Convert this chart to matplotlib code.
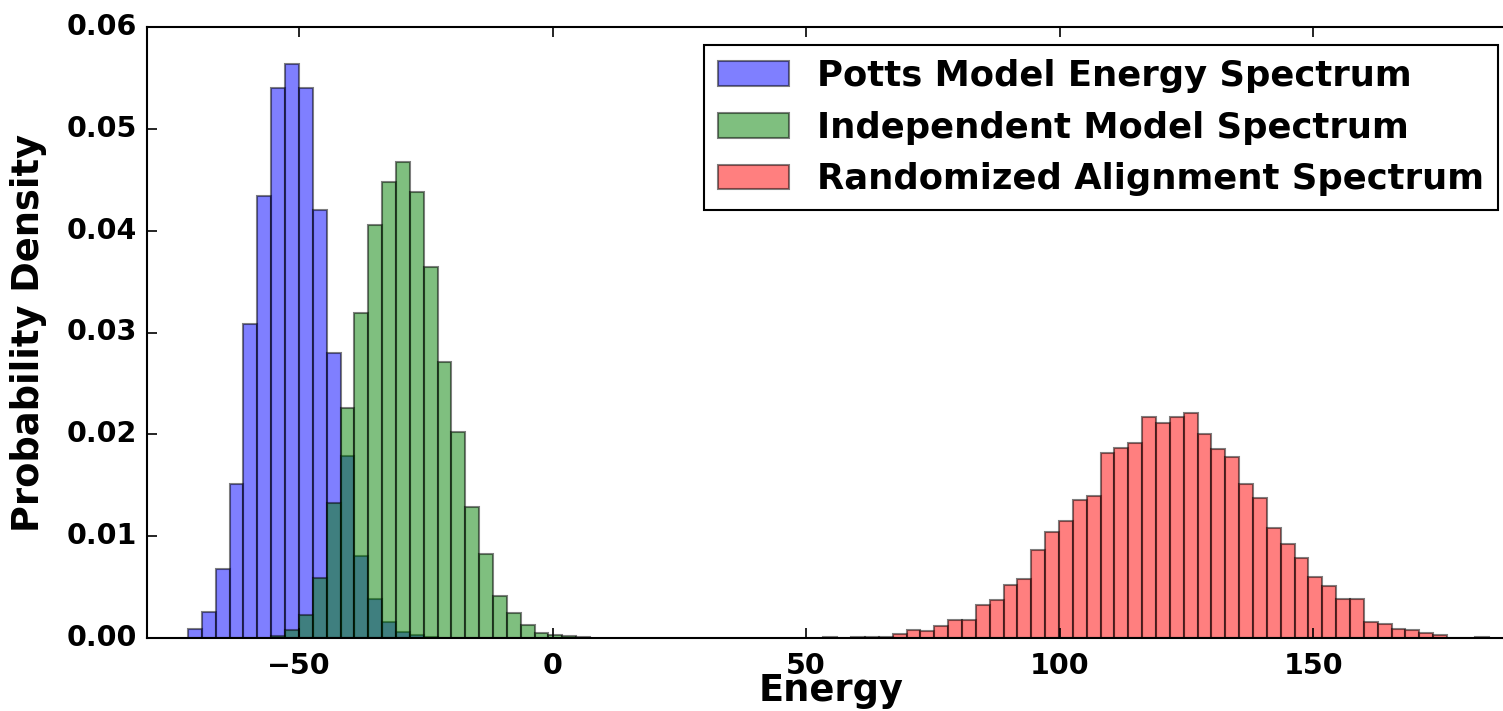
import numpy as np
import matplotlib
matplotlib.use("Agg")
import matplotlib.pyplot as plt

# bin width shared by all three histograms (energy units)
bin_width = 2.733

# Potts model energies: first bin starts at -71.9
potts_start = -71.9
potts_density = [0.00084, 0.0026, 0.0068, 0.0151, 0.0308, 0.0434, 0.0540, 0.0564,
                 0.0540, 0.0420, 0.0280, 0.0179, 0.0081, 0.0038, 0.0016, 0.0006,
                 0.0003, 0.0001]

# independent model energies
indep_start = -55.5
indep_density = [0.0002, 0.00076, 0.0023, 0.0059, 0.0133, 0.0226, 0.0319, 0.0406,
                 0.0448, 0.0467, 0.0438, 0.0364, 0.0271, 0.0202, 0.0129, 0.0082,
                 0.0041, 0.0025, 0.0013, 0.00046, 0.00026, 0.00015, 0.0001]

# randomized alignment energies
rand_start = 53.4
rand_density = [0.0001, 0.0, 0.0001, 0.0001, 0.0001, 0.00036, 0.00082, 0.00069,
                0.00121, 0.00174, 0.0018, 0.00324, 0.0037, 0.0052, 0.0058, 0.00864,
                0.0104, 0.01146, 0.01359, 0.01398, 0.0182, 0.0187, 0.0191, 0.0217,
                0.0211, 0.0217, 0.0221, 0.0200, 0.0186, 0.0178, 0.0151, 0.01375,
                0.01084, 0.00927, 0.00786, 0.00596, 0.00511, 0.00383, 0.00386, 0.0016,
                0.00141, 0.00085, 0.00082, 0.00046, 0.00033, 0.0, 0.0, 0.0001]

labels = ["Potts Model Energy Spectrum", "Independent Model Spectrum",
          "Randomized Alignment Spectrum"]


def bin_lefts(start, values):
    return start + bin_width * np.arange(len(values))


def main():
    plt.style.use("classic")
    plt.rcParams["font.family"] = ["DejaVu Sans"]
    plt.rcParams["font.weight"] = "bold"

    fig = plt.figure(figsize=(15.03, 7.11), dpi=100, facecolor="white")
    # the right edge of the axes runs a little past the picture (cropped)
    ax = fig.add_axes([147 / 1503, 73 / 711, 1369 / 1503, 611 / 711])

    series = [(potts_start, potts_density, "b"),
              (indep_start, indep_density, "g"),
              (rand_start, rand_density, "r")]
    for (start, vals, col), lab in zip(series, labels):
        ax.bar(bin_lefts(start, vals), vals, width=bin_width, align="edge",
               color=col, edgecolor="k", alpha=0.5, linewidth=1.5, label=lab)

    ax.set_xlim(-80, 190)
    ax.set_ylim(0, 0.06)
    ax.set_xticks([-50, 0, 50, 100, 150])
    ax.set_yticks(np.arange(0, 0.061, 0.01))
    ax.yaxis.set_major_formatter(matplotlib.ticker.FormatStrFormatter("%.2f"))

    for sp in ax.spines.values():
        sp.set_linewidth(1.5)
    ax.tick_params(axis="both", which="major", labelsize=20.5, length=7, width=1.2)
    ax.tick_params(axis="x", pad=10)
    ax.tick_params(axis="y", pad=7)
    for t in ax.get_xticklabels() + ax.get_yticklabels():
        t.set_fontweight("bold")

    ax.set_xlabel("Energy", fontsize=26.5, fontweight="bold", labelpad=-6)
    ax.set_ylabel("Probability Density", fontsize=26.5, fontweight="bold", labelpad=14)

    leg = ax.legend(loc="upper right", prop={"size": 25.5, "weight": "bold"})
    leg.get_frame().set_linewidth(1.5)

    fig.savefig("out.png", dpi=100, facecolor="white")


if __name__ == "__main__":
    main()
